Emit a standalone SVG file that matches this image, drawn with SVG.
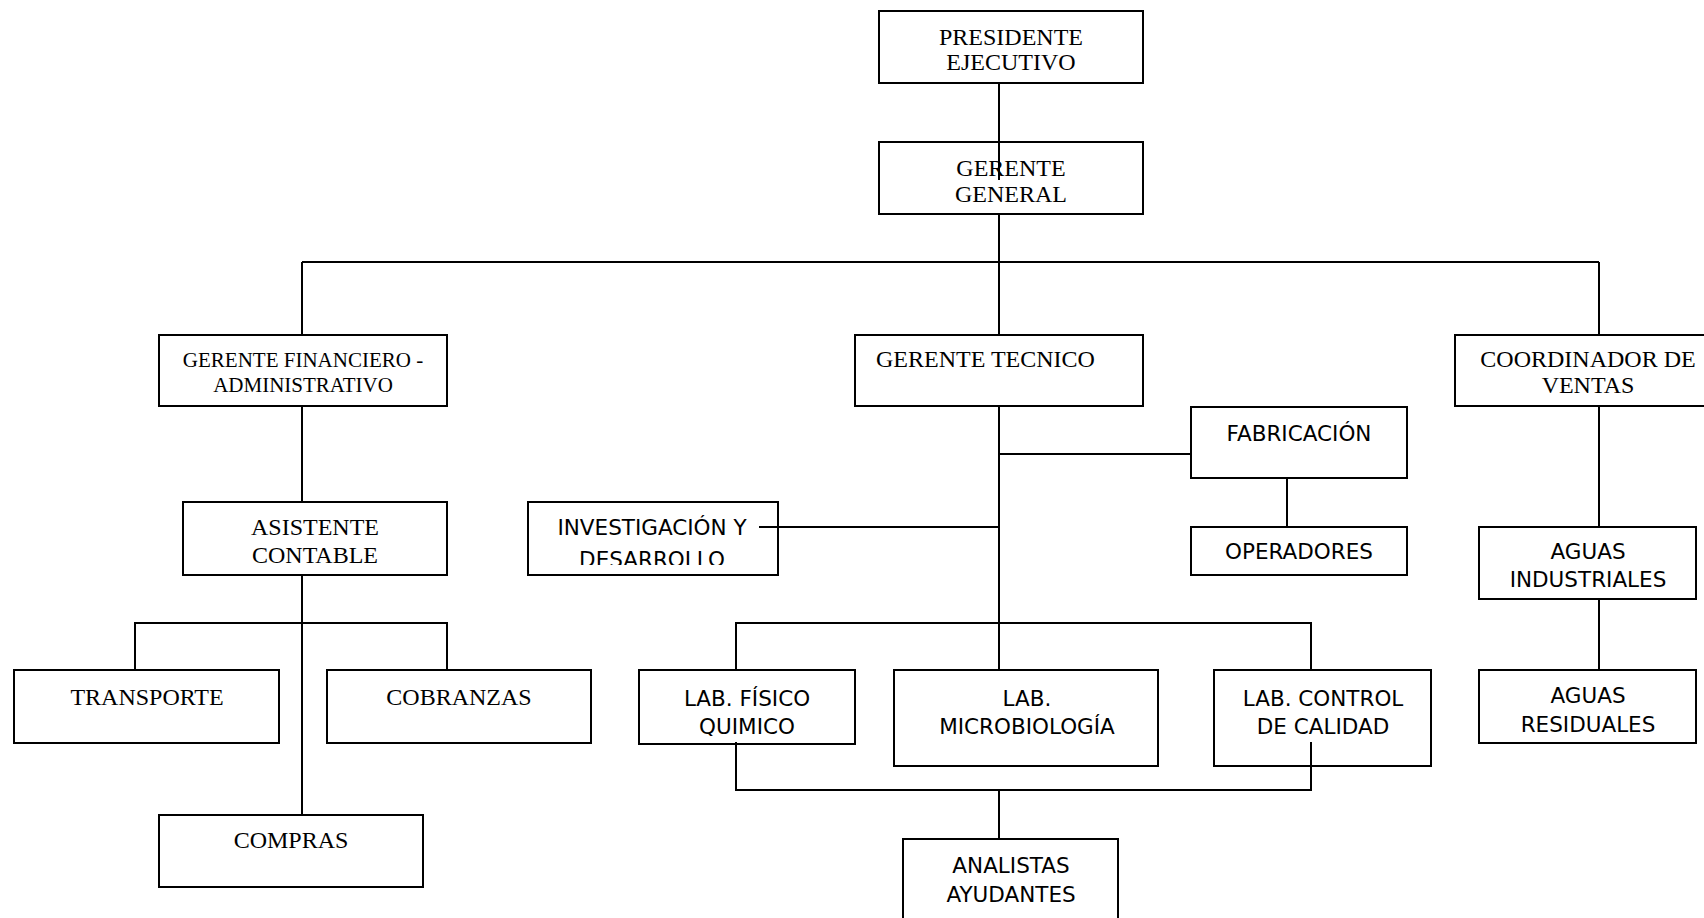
<svg xmlns="http://www.w3.org/2000/svg" width="1704" height="918" viewBox="0 0 1704 918">
<style>
  .box { fill: #fff; stroke: #000; stroke-width: 2; }
  .ln { fill: none; stroke: #000; stroke-width: 2; }
  .serif { font-family: "Liberation Serif", "Times New Roman", serif; font-size: 24px; fill: #000; text-anchor: middle; }
  .serif-s { font-family: "Liberation Serif", "Times New Roman", serif; font-size: 21px; fill: #000; text-anchor: middle; }
  .sans { font-family: "DejaVu Sans", Verdana, sans-serif; font-size: 21.5px; fill: #000; text-anchor: middle; }
</style>
<defs>
  <clipPath id="clipInv"><rect x="528" y="502" width="250" height="63"/></clipPath>
  <clipPath id="clipFis"><rect x="639" y="670" width="216" height="66"/></clipPath>
  <clipPath id="clipInd"><rect x="1479" y="527" width="217" height="62"/></clipPath>
  <clipPath id="clipRes"><rect x="1479" y="670" width="217" height="63"/></clipPath>
</defs>
<rect width="1704" height="918" fill="#fff"/>

<g id="nodes">
  <g id="presidente">
    <rect class="box" x="879" y="11" width="264" height="72"/>
    <text class="serif" x="1011" y="45">PRESIDENTE</text>
    <text class="serif" x="1011" y="70">EJECUTIVO</text>
  </g>
  <g id="gerente-general">
    <rect class="box" x="879" y="142" width="264" height="72"/>
    <text class="serif" x="1011" y="176">GERENTE</text>
    <text class="serif" x="1011" y="202">GENERAL</text>
  </g>
  <g id="gerente-financiero">
    <rect class="box" x="159" y="335" width="288" height="71"/>
    <text class="serif-s" x="303" y="367">GERENTE FINANCIERO -</text>
    <text class="serif-s" x="303" y="392">ADMINISTRATIVO</text>
  </g>
  <g id="gerente-tecnico">
    <rect class="box" x="855" y="335" width="288" height="71"/>
    <text class="serif" x="876" y="367" style="text-anchor:start">GERENTE TECNICO</text>
  </g>
  <g id="coordinador">
    <rect class="box" x="1455" y="335" width="266" height="71"/>
    <text class="serif" x="1588" y="367">COORDINADOR DE</text>
    <text class="serif" x="1588" y="393">VENTAS</text>
  </g>
  <g id="fabricacion">
    <rect class="box" x="1191" y="407" width="216" height="71"/>
    <text class="sans" x="1299" y="441">FABRICACIÓN</text>
  </g>
  <g id="operadores">
    <rect class="box" x="1191" y="527" width="216" height="48"/>
    <text class="sans" x="1299" y="559">OPERADORES</text>
  </g>
  <g id="investigacion">
    <rect class="box" x="528" y="502" width="250" height="73"/>
    <g clip-path="url(#clipInv)">
      <text class="sans" x="652" y="535">INVESTIGACIÓN Y</text>
      <text class="sans" x="652" y="567">DESARROLLO</text>
    </g>
  </g>
  <g id="asistente">
    <rect class="box" x="183" y="502" width="264" height="73"/>
    <text class="serif" x="315" y="535">ASISTENTE</text>
    <text class="serif" x="315" y="563">CONTABLE</text>
  </g>
  <g id="transporte">
    <rect class="box" x="14" y="670" width="265" height="73"/>
    <text class="serif" x="147" y="705">TRANSPORTE</text>
  </g>
  <g id="cobranzas">
    <rect class="box" x="327" y="670" width="264" height="73"/>
    <text class="serif" x="459" y="705">COBRANZAS</text>
  </g>
  <g id="compras">
    <rect class="box" x="159" y="815" width="264" height="72"/>
    <text class="serif" x="291" y="848">COMPRAS</text>
  </g>
  <g id="lab-fisico">
    <rect class="box" x="639" y="670" width="216" height="74"/>
    <g clip-path="url(#clipFis)">
      <text class="sans" x="747" y="706">LAB. FÍSICO</text>
      <text class="sans" x="747" y="734">QUIMICO</text>
    </g>
  </g>
  <g id="lab-micro">
    <rect class="box" x="894" y="670" width="264" height="96"/>
    <text class="sans" x="1027" y="706">LAB.</text>
    <text class="sans" x="1027" y="734">MICROBIOLOGÍA</text>
  </g>
  <g id="lab-control">
    <rect class="box" x="1214" y="670" width="217" height="96"/>
    <text class="sans" x="1323" y="706">LAB. CONTROL</text>
    <text class="sans" x="1323" y="734">DE CALIDAD</text>
  </g>
  <g id="analistas">
    <rect class="box" x="903" y="839" width="215" height="90"/>
    <text class="sans" x="1011" y="873">ANALISTAS</text>
    <text class="sans" x="1011" y="902">AYUDANTES</text>
  </g>
  <g id="aguas-industriales">
    <rect class="box" x="1479" y="527" width="217" height="72"/>
    <g clip-path="url(#clipInd)">
      <text class="sans" x="1588" y="559">AGUAS</text>
      <text class="sans" x="1588" y="587">INDUSTRIALES</text>
    </g>
  </g>
  <g id="aguas-residuales">
    <rect class="box" x="1479" y="670" width="217" height="73"/>
    <g clip-path="url(#clipRes)">
      <text class="sans" x="1588" y="703">AGUAS</text>
      <text class="sans" x="1588" y="732">RESIDUALES</text>
    </g>
  </g>
</g>

<g id="connectors">
  <path class="ln" d="M999,83 V180"/>
  <path class="ln" d="M999,214 V335"/>
  <path class="ln" d="M302,262 H1599"/>
  <path class="ln" d="M302,262 V335"/>
  <path class="ln" d="M1599,262 V335"/>
  <path class="ln" d="M999,406 V670"/>
  <path class="ln" d="M999,454 H1191"/>
  <path class="ln" d="M1287,478 V527"/>
  <path class="ln" d="M759,527 H999"/>
  <path class="ln" d="M302,406 V502"/>
  <path class="ln" d="M302,575 V815"/>
  <path class="ln" d="M135,670 V623 H447 V670"/>
  <path class="ln" d="M736,670 V623 H1311 V670"/>
  <path class="ln" d="M736,742 V790 H1311 V742"/>
  <path class="ln" d="M999,790 V839"/>
  <path class="ln" d="M1599,406 V527"/>
  <path class="ln" d="M1599,599 V670"/>
</g>
</svg>
